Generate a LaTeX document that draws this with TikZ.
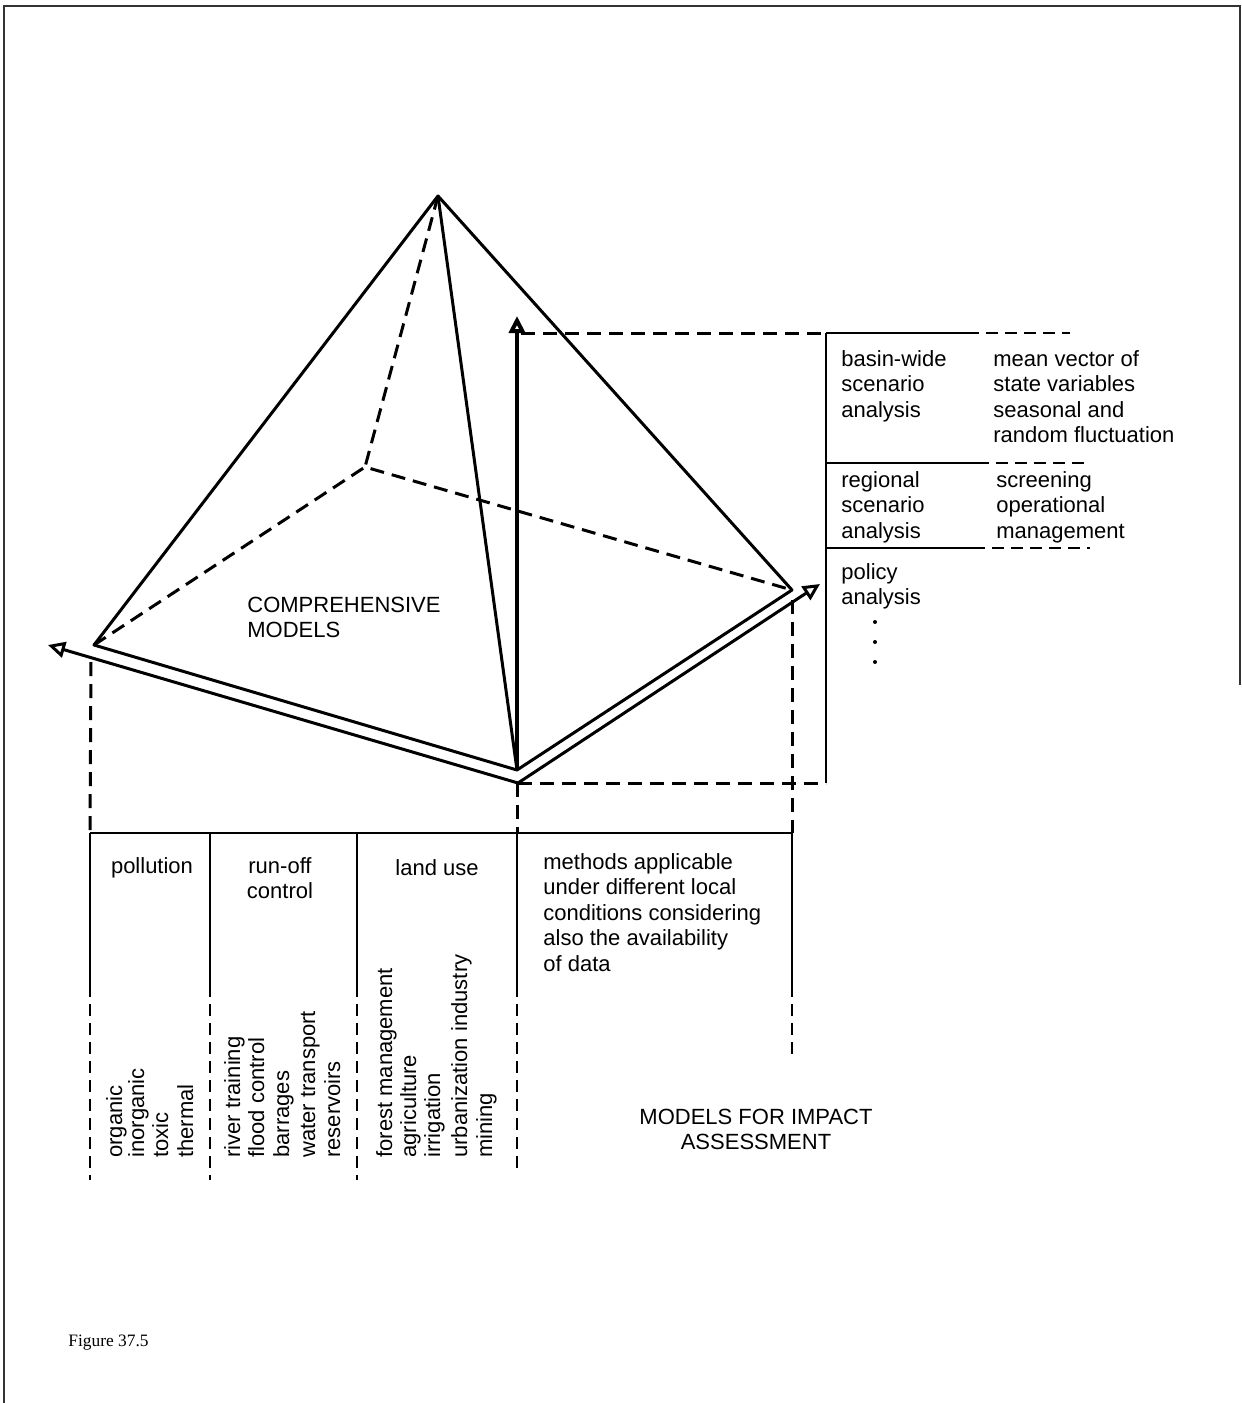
\documentclass[tikz,border=0pt]{standalone}
\usepackage{fontspec}
\setmainfont{Liberation Sans}
\newfontfamily\figfont{Liberation Serif}
\usetikzlibrary{arrows.meta}
\begin{document}
\begin{tikzpicture}[x=0.5pt,y=-0.5pt,
  edge/.style={line width=1.5pt},
  hid/.style={line width=1.5pt,dash pattern=on 7pt off 4pt},
  tline/.style={line width=1.3pt},
  tdash/.style={line width=1.3pt,dash pattern=on 6pt off 3.5pt},
  txt/.style={inner sep=0pt,anchor=base west,align=left,font=\fontsize{11}{12.75}\selectfont},
  ctxt/.style={inner sep=0pt,anchor=base,align=center,font=\fontsize{11}{12.75}\selectfont},
  rot/.style={inner sep=0pt,anchor=base west,rotate=90,font=\fontsize{11}{12.75}\selectfont},
  opentip/.style={-{Triangle[open,length=8.5pt,width=8pt]}}
]
\useasboundingbox (0,0) rectangle (1242,1403);
% page frame
\coordinate (F0) at (4,1403);
\coordinate (F1) at (4,6);
\coordinate (F2) at (1240,6);
\coordinate (F3) at (1240,685);
\draw[line width=0.8pt,black!80] (F0) -- (F1) -- (F2) -- (F3);

% pyramid vertices
\coordinate (A) at (438,196);
\coordinate (L) at (94,645);
\coordinate (B) at (517,770);
\coordinate (R) at (792,590);
\coordinate (K) at (365,467);
\coordinate (Bo) at (518,783);
\coordinate (La) at (48,645);
\coordinate (Ra) at (820,584);
\coordinate (V) at (517,316);

\draw[edge,line join=round] (L) -- (A) -- (R) -- (B) -- cycle;
\draw[edge] (A) -- (B);
\draw[hid] (A) -- (K);
\draw[hid] (L) -- (K) -- (R);
\draw[edge,opentip] (Bo) -- (La);
\draw[edge,opentip] (Bo) -- (Ra);
\draw[line width=2pt,opentip] (B) -- (V);

% bottom table
\coordinate (Ld) at (91,662);
\coordinate (Rd) at (792,600);
\coordinate (Bd) at (517,783);
\coordinate (T0) at (90,833);
\coordinate (T1) at (210,833);
\coordinate (T2) at (357,833);
\coordinate (T3) at (517,833);
\coordinate (T4) at (792,833);
\coordinate (M0) at (90,985);
\coordinate (M1) at (210,985);
\coordinate (M2) at (357,985);
\coordinate (M3) at (517,985);
\coordinate (M4) at (792,985);
\coordinate (E0) at (90,1180);
\coordinate (E1) at (210,1180);
\coordinate (E2) at (357,1180);
\coordinate (E3) at (517,1175);
\coordinate (E4) at (792,1057);
\draw[hid] (Ld) -- (T0);
\draw[hid] (Bd) -- (T3);
\draw[hid] (Rd) -- (T4);
\draw[tline] (T0) -- (T4);
\foreach \i in {0,...,4}{\draw[tline] (T\i) -- (M\i); \draw[tdash] (M\i) -- (E\i);}

% top-right table
\coordinate (Va) at (521,333);
\coordinate (S0) at (826,333);
\coordinate (S1) at (826,783);
\coordinate (H0) at (826,463);
\coordinate (H1) at (826,548);
\coordinate (P0) at (967,333);
\coordinate (Q0) at (1070,333);
\coordinate (P1) at (977,463);
\coordinate (Q1) at (1087,463);
\coordinate (P2) at (973,548);
\coordinate (Q2) at (1090,548);
\draw[hid] (Va) -- (S0);
\draw[hid] (Bo) -- (S1);
\draw[tline] (S0) -- (S1);
\draw[tline] (S0) -- (P0); \draw[tdash] (P0) -- (Q0);
\draw[tline] (H0) -- (P1); \draw[tdash] (P1) -- (Q1);
\draw[tline] (H1) -- (P2); \draw[tdash] (P2) -- (Q2);

% right texts (anchored at the baseline of the last line)
\node[txt] (bw) at (841,417) {basin-wide\\scenario\\analysis};
\node[txt] (mv) at (993,442.5) {mean vector of\\state variables\\seasonal and\\random fluctuation};
\node[txt] (rg) at (841,538) {regional\\scenario\\analysis};
\node[txt] (sc) at (996,538) {screening\\operational\\management};
\node[txt] (pa) at (841,604.5) {policy\\analysis};
\fill (875,622) circle (2);
\fill (875,642) circle (2);
\fill (875,662) circle (2);

% main labels
\node[txt] (cm) at (247,637.5) {COMPREHENSIVE\\MODELS};
\node[ctxt] (mi) at (756,1149.5) {MODELS FOR IMPACT\\ASSESSMENT};

% bottom table heads
\node[ctxt] (po) at (152,873) {pollution};
\node[ctxt] (ro) at (280,898.5) {run-off\\control};
\node[ctxt] (lu) at (437,875) {land use};
\node[txt] (me) at (543,971) {methods applicable\\under different local\\conditions considering\\also the availability\\of data};

% rotated items
\node[rot] (r1) at (122,1158) {organic};
\node[rot] (r2) at (144,1158) {inorganic};
\node[rot] (r3) at (168,1158) {toxic};
\node[rot] (r4) at (193,1158) {thermal};
\node[rot] (r5) at (240,1158) {river training};
\node[rot] (r6) at (264,1158) {flood control};
\node[rot] (r7) at (289,1158) {barrages};
\node[rot] (r8) at (315,1158) {water transport};
\node[rot] (r9) at (340,1158) {reservoirs};
\node[rot] (r10) at (392,1158) {forest management};
\node[rot] (r11) at (416,1158) {agriculture};
\node[rot] (r12) at (440,1158) {irrigation};
\node[rot] (r13) at (467,1158) {urbanization industry};
\node[rot] (r14) at (492,1158) {mining};

% caption
\node[inner sep=0pt,anchor=base west,font=\figfont\fontsize{8.7}{10}\selectfont] (fig) at (68,1346) {Figure 37.5};
\end{tikzpicture}
\end{document}
